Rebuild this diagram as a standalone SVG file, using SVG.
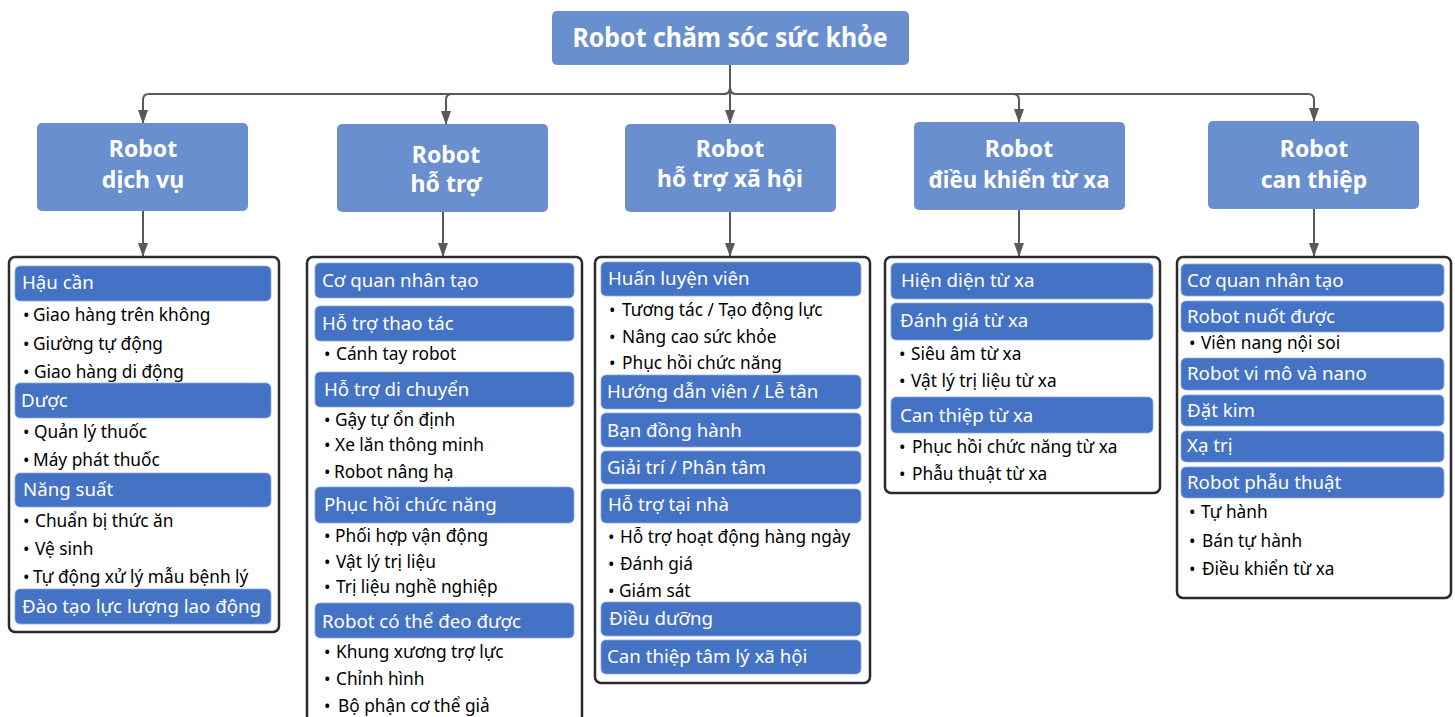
<svg xmlns="http://www.w3.org/2000/svg" width="1455" height="717" viewBox="0 0 1455 717">
<defs>
<marker id="arr" markerUnits="userSpaceOnUse" markerWidth="14" markerHeight="10" viewBox="0 0 14 10" refX="13" refY="5" orient="auto">
<path d="M0,0 L14,5 L0,10 z" fill="#595959"/>
</marker>
<style>
.top{fill:#6a8fcf;}
.ttl{font-family:"Noto Sans","Open Sans",sans-serif;font-weight:bold;fill:#fff;text-anchor:middle;}
.grp{fill:#fff;stroke:#2b2b2b;stroke-width:2.5;}
.bar{fill:#4472c4;stroke:#8fa9dc;stroke-width:0.8;}
.bt{font-family:"Noto Sans","Open Sans",sans-serif;font-size:18.7px;fill:#fff;}
.it{font-family:"Noto Sans","Open Sans",sans-serif;font-size:17.3px;fill:#000;}
.con{fill:none;stroke:#595959;stroke-width:2;marker-end:url(#arr);}
</style>
</defs>
<rect width="1455" height="717" fill="#fff"/>

<g id="connectors">
<path class="con" d="M730,65 V123"/>
<path class="con" d="M730,88 Q730,94 724,94 H149 Q143,94 143,100 V123"/>
<path class="con" d="M730,88 Q730,94 724,94 H452 Q446,94 446,100 V124"/>
<path class="con" d="M730,88 Q730,94 736,94 H1013 Q1019,94 1019,100 V122"/>
<path class="con" d="M730,88 Q730,94 736,94 H1308 Q1314,94 1314,100 V121"/>
<path class="con" d="M143,211 V256"/>
<path class="con" d="M443,212 V256"/>
<path class="con" d="M730,212 V256"/>
<path class="con" d="M1019,210 V256"/>
<path class="con" d="M1314,209 V256"/>
</g>

<g id="root">
<rect class="top" x="552" y="11" width="357" height="54" rx="5"/>
<text class="ttl" x="730" y="47" font-size="26" textLength="315" lengthAdjust="spacingAndGlyphs">Robot chăm sóc sức khỏe</text>
</g>

<g id="cat1">
<rect class="top" x="37" y="123" width="211" height="88" rx="5"/>
<text class="ttl" font-size="23" x="143" y="157">Robot</text>
<text class="ttl" font-size="23" x="143" y="188">dịch vụ</text>
</g>
<g id="cat2">
<rect class="top" x="337" y="124" width="211" height="88" rx="5"/>
<text class="ttl" font-size="23" x="446" y="163">Robot</text>
<text class="ttl" font-size="23" x="446" y="192">hỗ trợ</text>
</g>
<g id="cat3">
<rect class="top" x="625" y="124" width="211" height="88" rx="5"/>
<text class="ttl" font-size="23" x="730" y="157">Robot</text>
<text class="ttl" font-size="23" x="730" y="187">hỗ trợ xã hội</text>
</g>
<g id="cat4">
<rect class="top" x="914" y="122" width="211" height="88" rx="5"/>
<text class="ttl" font-size="23" x="1019" y="157">Robot</text>
<text class="ttl" font-size="23" x="1019" y="188" textLength="181" lengthAdjust="spacingAndGlyphs">điều khiển từ xa</text>
</g>
<g id="cat5">
<rect class="top" x="1208" y="121" width="211" height="88" rx="5"/>
<text class="ttl" font-size="23" x="1314" y="157">Robot</text>
<text class="ttl" font-size="23" x="1314" y="188">can thiệp</text>
</g>

<g id="list1">
<rect class="grp" x="9" y="257" width="270" height="375" rx="6"/>
<rect class="bar" x="15" y="266" width="256" height="35" rx="5"/>
<text class="bt" x="22" y="289">Hậu cần</text>
<text class="it" x="23" y="321">•<tspan x="33">Giao hàng trên không</tspan></text>
<text class="it" x="23" y="350">•<tspan x="33">Giường tự động</tspan></text>
<text class="it" x="23" y="378">•<tspan x="34">Giao hàng di động</tspan></text>
<rect class="bar" x="15" y="383" width="256" height="35" rx="5"/>
<text class="bt" x="21" y="407">Dược</text>
<text class="it" x="23" y="438">•<tspan x="34">Quản lý thuốc</tspan></text>
<text class="it" x="23" y="466">•<tspan x="33">Máy phát thuốc</tspan></text>
<rect class="bar" x="15" y="473" width="256" height="34" rx="5"/>
<text class="bt" x="23" y="496">Năng suất</text>
<text class="it" x="23" y="527">•<tspan x="35">Chuẩn bị thức ăn</tspan></text>
<text class="it" x="23" y="555">•<tspan x="35">Vệ sinh</tspan></text>
<text class="it" x="23" y="583">•<tspan x="33">Tự động xử lý mẫu bệnh lý</tspan></text>
<rect class="bar" x="15" y="589" width="256" height="35" rx="5"/>
<text class="bt" x="22" y="613">Đào tạo lực lượng lao động</text>
</g>

<g id="list2">
<rect class="grp" x="307" y="257" width="275" height="475" rx="6"/>
<rect class="bar" x="315" y="263" width="259" height="35" rx="5"/>
<text class="bt" x="322" y="287">Cơ quan nhân tạo</text>
<rect class="bar" x="315" y="306" width="259" height="35" rx="5"/>
<text class="bt" x="322" y="330">Hỗ trợ thao tác</text>
<text class="it" x="324" y="360">•<tspan x="336">Cánh tay robot</tspan></text>
<rect class="bar" x="315" y="372" width="259" height="35" rx="5"/>
<text class="bt" x="324" y="396">Hỗ trợ di chuyển</text>
<text class="it" x="324" y="426">•<tspan x="335">Gậy tự ổn định</tspan></text>
<text class="it" x="324" y="451">•<tspan x="335">Xe lăn thông minh</tspan></text>
<text class="it" x="324" y="478">•<tspan x="334">Robot nâng hạ</tspan></text>
<rect class="bar" x="315" y="487" width="259" height="36" rx="5"/>
<text class="bt" x="324" y="511">Phục hồi chức năng</text>
<text class="it" x="324" y="542">•<tspan x="335">Phối hợp vận động</tspan></text>
<text class="it" x="324" y="568">•<tspan x="336">Vật lý trị liệu</tspan></text>
<text class="it" x="324" y="593">•<tspan x="336">Trị liệu nghề nghiệp</tspan></text>
<rect class="bar" x="315" y="603" width="259" height="35" rx="5"/>
<text class="bt" x="322" y="628">Robot có thể đeo được</text>
<text class="it" x="324" y="658">•<tspan x="336">Khung xương trợ lực</tspan></text>
<text class="it" x="324" y="685">•<tspan x="336">Chỉnh hình</tspan></text>
<text class="it" x="324" y="712">•<tspan x="338">Bộ phận cơ thể giả</tspan></text>
</g>

<g id="list3">
<rect class="grp" x="595" y="257" width="275" height="426" rx="6"/>
<rect class="bar" x="601" y="262" width="260" height="34" rx="5"/>
<text class="bt" x="608" y="285">Huấn luyện viên</text>
<text class="it" x="609" y="316">•<tspan x="622">Tương tác / Tạo động lực</tspan></text>
<text class="it" x="609" y="343">•<tspan x="622">Nâng cao sức khỏe</tspan></text>
<text class="it" x="609" y="369">•<tspan x="622">Phục hồi chức năng</tspan></text>
<rect class="bar" x="601" y="375" width="260" height="34" rx="5"/>
<text class="bt" x="607" y="398">Hướng dẫn viên / Lễ tân</text>
<rect class="bar" x="601" y="413" width="260" height="34" rx="5"/>
<text class="bt" x="607" y="437">Bạn đồng hành</text>
<rect class="bar" x="601" y="451" width="260" height="33" rx="5"/>
<text class="bt" x="607" y="474">Giải trí / Phân tâm</text>
<rect class="bar" x="601" y="489" width="260" height="34" rx="5"/>
<text class="bt" x="608" y="511">Hỗ trợ tại nhà</text>
<text class="it" x="608" y="543">•<tspan x="620">Hỗ trợ hoạt động hàng ngày</tspan></text>
<text class="it" x="608" y="570">•<tspan x="620">Đánh giá</tspan></text>
<text class="it" x="608" y="597">•<tspan x="619">Giám sát</tspan></text>
<rect class="bar" x="601" y="602" width="260" height="34" rx="5"/>
<text class="bt" x="609" y="625">Điều dưỡng</text>
<rect class="bar" x="601" y="640" width="260" height="34" rx="5"/>
<text class="bt" x="607" y="663">Can thiệp tâm lý xã hội</text>
</g>

<g id="list4">
<rect class="grp" x="885" y="257" width="275" height="236" rx="6"/>
<rect class="bar" x="891" y="263" width="262" height="36" rx="5"/>
<text class="bt" x="901" y="287">Hiện diện từ xa</text>
<rect class="bar" x="891" y="303" width="262" height="37" rx="5"/>
<text class="bt" x="900" y="327">Đánh giá từ xa</text>
<text class="it" x="899" y="360">•<tspan x="911">Siêu âm từ xa</tspan></text>
<text class="it" x="899" y="387">•<tspan x="911">Vật lý trị liệu từ xa</tspan></text>
<rect class="bar" x="891" y="397" width="262" height="36" rx="5"/>
<text class="bt" x="900" y="422">Can thiệp từ xa</text>
<text class="it" x="899" y="453">•<tspan x="912">Phục hồi chức năng từ xa</tspan></text>
<text class="it" x="899" y="480">•<tspan x="912">Phẫu thuật từ xa</tspan></text>
</g>

<g id="list5">
<rect class="grp" x="1177" y="257" width="274" height="341" rx="6"/>
<rect class="bar" x="1181" y="264" width="263" height="32" rx="5"/>
<text class="bt" x="1187" y="287">Cơ quan nhân tạo</text>
<rect class="bar" x="1181" y="301" width="263" height="31" rx="5"/>
<text class="bt" x="1187" y="323">Robot nuốt được</text>
<text class="it" x="1189" y="349">•<tspan x="1201">Viên nang nội soi</tspan></text>
<rect class="bar" x="1181" y="358" width="263" height="32" rx="5"/>
<text class="bt" x="1187" y="380">Robot vi mô và nano</text>
<rect class="bar" x="1181" y="395" width="263" height="31" rx="5"/>
<text class="bt" x="1187" y="417">Đặt kim</text>
<rect class="bar" x="1181" y="431" width="263" height="31" rx="5"/>
<text class="bt" x="1187" y="452">Xạ trị</text>
<rect class="bar" x="1181" y="467" width="263" height="31" rx="5"/>
<text class="bt" x="1187" y="489">Robot phẫu thuật</text>
<text class="it" x="1189" y="518">•<tspan x="1201">Tự hành</tspan></text>
<text class="it" x="1189" y="547">•<tspan x="1202">Bán tự hành</tspan></text>
<text class="it" x="1189" y="575">•<tspan x="1202">Điều khiển từ xa</tspan></text>
</g>
</svg>
